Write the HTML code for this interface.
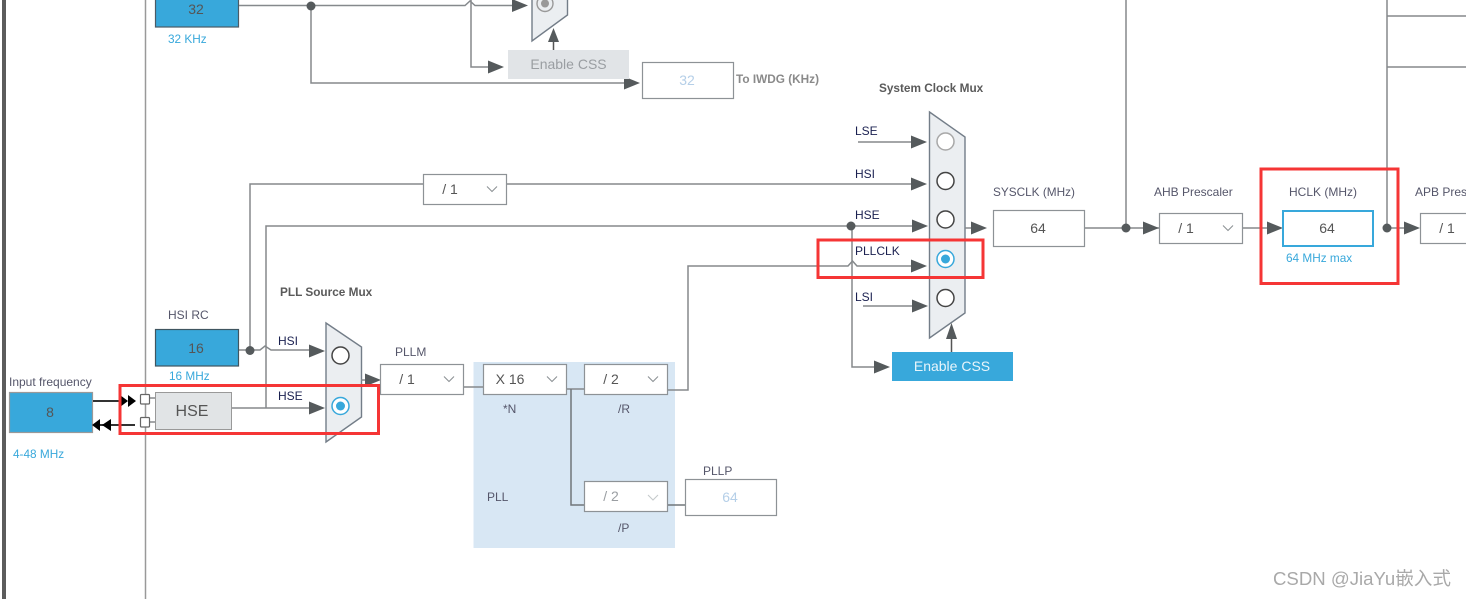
<!DOCTYPE html>
<html><head><meta charset="utf-8"><style>
html,body{margin:0;padding:0;background:#fff;width:1466px;height:599px;overflow:hidden}
svg{display:block}
text{font-family:"Liberation Sans","Noto Sans CJK SC",sans-serif;font-size:12px;fill:#55566a}
.l{fill:none;stroke:#85898c;stroke-width:1.5}
.b{fill:#38a8db}
.box{fill:#fff;stroke:#8d9296;stroke-width:1.2}
.ar{fill:#555a5c}
.v{font-size:14px;fill:#555;text-anchor:middle}
.c{fill:#38a8db;font-size:11.8px}
.n{fill:#1a2050}
.h{font-weight:bold;fill:#5a5a5a;font-size:11.8px}
.chev{fill:none;stroke:#8d9296;stroke-width:1.1}
.mux{fill:#ebeef1;stroke:#737d88;stroke-width:1.4}
.o{fill:#fff;stroke:#444;stroke-width:1.5}
.red{fill:none;stroke:#f53535;stroke-width:3}
</style></head><body>
<svg width="1466" height="599" viewBox="0 0 1466 599" xmlns="http://www.w3.org/2000/svg">
<defs>
<g id="a"><path class="ar" d="M-16,-6.500 L0,0 L-16,6.500 Z"/></g>
<g id="ch"><path class="chev" d="M-5,-2.500 L0,2.500 L5,-2.500"/></g>
</defs>
<rect x="2" y="0" width="4" height="599" fill="#5c5c5c"/>
<path d="M145.500,0V599" class="l" style="stroke:#999"/>
<rect x="473.500" y="362" width="201.500" height="186" fill="#d8e7f4"/>

<!-- top section -->
<rect class="b" x="155.500" y="-10" width="83" height="37" stroke="#4b5b66" stroke-width="1.200"/>
<text class="v" x="196" y="14">32</text>
<text class="c" x="168" y="43">32 KHz</text>
<path class="l" d="M239,5.500H465L470,1L475,5.500H515"/>
<path class="l" d="M471,0V67H490"/>
<path class="l" d="M311,6V83H625"/>
<circle cx="311" cy="6" r="4.500" fill="#555a5c"/>
<use href="#a" x="528" y="5.500"/>
<use href="#a" x="504" y="67"/>
<use href="#a" x="640" y="83"/>
<path class="mux" d="M532,-10V41L567.500,15V-10Z"/>
<circle cx="545" cy="3.500" r="8" fill="none" stroke="#999" stroke-width="1.400"/>
<circle cx="545" cy="3.500" r="4" fill="#999"/>
<path class="l" d="M553.500,50V36" style="stroke:#555"/>
<path class="ar" d="M553.500,28L559,42H548Z"/>
<rect x="508" y="50" width="121" height="29" fill="#e1e4e7"/>
<text x="568.500" y="69" style="font-size:14px;fill:#9a9ea2;text-anchor:middle">Enable CSS</text>
<rect class="box" x="642.500" y="62.500" width="91" height="36"/>
<text class="v" x="687" y="85" style="fill:#b5cfe8">32</text>
<text x="736" y="83" class="h" style="fill:#8a8a8a">To IWDG (KHz)</text>

<!-- HSI / HSE lines -->
<path class="l" d="M250,350V184H423M507,184H912"/>
<rect class="box" x="423.500" y="174.500" width="83" height="30"/>
<text class="v" x="450" y="194">/ 1</text><use href="#ch" x="492" y="189"/>
<path class="l" d="M266,408V226H912"/>
<path class="l" d="M239,350H260L265,346L271,350H311"/>
<path class="l" d="M232,408H311"/>
<circle cx="250" cy="350.500" r="4.500" fill="#555a5c"/>
<use href="#a" x="325" y="351"/>
<use href="#a" x="325" y="408"/>
<text class="n" x="278" y="345">HSI</text>
<text class="n" x="278" y="400">HSE</text>

<!-- Input / HSE block -->
<text x="9" y="386">Input frequency</text>
<rect class="b" x="9.500" y="392.500" width="83" height="40" stroke="#999" stroke-width="1.200"/>
<text class="v" x="50" y="417">8</text>
<text class="c" x="13" y="458">4-48 MHz</text>
<path d="M93,401H122M135,425H100" stroke="#333" stroke-width="2" fill="none"/>
<path d="M120,395L128,401L120,407ZM128,395L136,401L128,407Z" fill="#000"/>
<path d="M100,419L92,425L100,431ZM111,419L102,425L111,431Z" fill="#000"/>
<path class="l" d="M150,398H155M150,422H155" />
<rect x="140.500" y="394.500" width="9" height="9.500" rx="1" fill="#fff" stroke="#666" stroke-width="1.200"/>
<rect x="140.500" y="417.500" width="9" height="9.500" rx="1" fill="#fff" stroke="#666" stroke-width="1.200"/>
<rect x="155.500" y="392.500" width="76" height="37" fill="#e1e4e6" stroke="#999" stroke-width="1"/>
<text x="192" y="416" style="font-size:16px;fill:#555;text-anchor:middle">HSE</text>
<text x="168" y="319">HSI RC</text>
<rect class="b" x="155.500" y="329.500" width="83" height="36.500" stroke="#3f5560" stroke-width="1.200"/>
<text class="v" x="196" y="353">16</text>
<text class="c" x="169" y="380">16 MHz</text>
<text x="280" y="296" class="h">PLL Source Mux</text>
<path class="mux" d="M326,323L361.500,347V417L326,442Z"/>
<circle class="o" cx="340.500" cy="355.500" r="8.500"/>
<circle cx="340.500" cy="406" r="8.500" fill="#fff" stroke="#38a8db" stroke-width="1.500"/>
<circle cx="340.500" cy="406" r="4.500" fill="#38a8db"/>
<path class="l" d="M361,380H370"/>
<use href="#a" x="381" y="380"/>

<!-- PLL -->
<text x="395" y="356">PLLM</text>
<path class="l" d="M464,387H483M567,389H584M668,390H688V266H848L852.500,261L857,266H912"/>
<path class="l" d="M571,389V505H584M668,505H685" style="stroke:#71767a"/>
<rect class="box" x="380.500" y="364.500" width="83" height="30"/>
<text class="v" x="407" y="384">/ 1</text><use href="#ch" x="449" y="379"/>
<rect class="box" x="483.500" y="364.500" width="83" height="30"/>
<text class="v" x="510" y="384">X 16</text><use href="#ch" x="552" y="379"/>
<rect class="box" x="584.500" y="364.500" width="83" height="30"/>
<text class="v" x="611" y="384">/ 2</text><use href="#ch" x="653" y="379"/>
<rect class="box" x="584.500" y="481.500" width="83" height="30"/>
<text class="v" x="611" y="501" style="fill:#9a9ea2">/ 2</text>
<path d="M648,495L653,500L658,495" fill="none" stroke="#c5c9cc" stroke-width="1.100"/>
<rect class="box" x="685.500" y="479.500" width="91" height="36"/>
<text class="v" x="730" y="502" style="fill:#b5cfe8">64</text>
<text x="703" y="475">PLLP</text>
<text x="503" y="413">*N</text>
<text x="618" y="413">/R</text>
<text x="487" y="501">PLL</text>
<text x="618" y="532">/P</text>

<!-- System Clock Mux -->
<text x="879" y="92" class="h">System Clock Mux</text>
<path class="l" d="M858,142H912M863,306H912"/>
<path class="l" d="M852,226V367H875"/>
<circle cx="851" cy="226" r="4.500" fill="#555a5c"/>
<use href="#a" x="927" y="142"/>
<use href="#a" x="927" y="184"/>
<use href="#a" x="928" y="226"/>
<use href="#a" x="927" y="266"/>
<use href="#a" x="928" y="306"/>
<use href="#a" x="890" y="367"/>
<text class="n" x="855" y="135">LSE</text>
<text class="n" x="855" y="178">HSI</text>
<text class="n" x="855" y="219">HSE</text>
<text class="n" x="855" y="255">PLLCLK</text>
<text class="n" x="855" y="301">LSI</text>
<path class="mux" d="M929.500,112L965,137V313L929.500,338Z"/>
<circle cx="945.500" cy="141.500" r="8.500" fill="#fff" stroke="#a8a8a8" stroke-width="1.500"/>
<circle class="o" cx="945.500" cy="181" r="8.500"/>
<circle class="o" cx="945.500" cy="219.500" r="8.500"/>
<circle cx="945.500" cy="259" r="8.500" fill="#fff" stroke="#38a8db" stroke-width="1.500"/>
<circle cx="945.500" cy="259" r="4.500" fill="#38a8db"/>
<circle class="o" cx="945.500" cy="298" r="8.500"/>
<path d="M951.500,352V335" stroke="#555" stroke-width="1.500"/>
<path class="ar" d="M951.500,323L957,339H946Z"/>
<rect x="892" y="352" width="121" height="29" fill="#38a8db"/>
<text x="952" y="371" style="font-size:14px;fill:#e8f5fb;text-anchor:middle">Enable CSS</text>

<!-- right -->
<path class="l" d="M965,228H973"/>
<use href="#a" x="987" y="228"/>
<text x="993" y="196" style="font-size:11.8px">SYSCLK (MHz)</text>
<rect class="box" x="993.500" y="210.500" width="91" height="36"/>
<text class="v" x="1038" y="233">64</text>
<path class="l" d="M1085,228H1159M1243,228H1270"/>
<path class="l" d="M1126,0V228"/>
<circle cx="1126" cy="228" r="4.500" fill="#555a5c"/>
<use href="#a" x="1159" y="228"/>
<text x="1154" y="196">AHB Prescaler</text>
<rect class="box" x="1159.500" y="213.500" width="83" height="30"/>
<text class="v" x="1186" y="233">/ 1</text><use href="#ch" x="1228" y="228"/>
<use href="#a" x="1283" y="228"/>
<text x="1289" y="196">HCLK (MHz)</text>
<rect x="1283" y="211" width="90" height="35" fill="#fff" stroke="#38a8db" stroke-width="2"/>
<text class="v" x="1327" y="233">64</text>
<text class="c" x="1286" y="262">64 MHz max</text>
<path class="l" d="M1387,0V228M1387,16H1466M1387,67H1466M1387,228H1405"/>
<circle cx="1387" cy="228" r="4.500" fill="#555a5c"/>
<use href="#a" x="1420" y="228"/>
<text x="1415" y="196">APB Prescaler</text>
<rect class="box" x="1420.500" y="213.500" width="60" height="30"/>
<text class="v" x="1447" y="233">/ 1</text>

<!-- red highlights -->
<rect class="red" x="120" y="385.500" width="258.500" height="48"/>
<rect class="red" x="818" y="240" width="165" height="37.500"/>
<rect class="red" x="1261" y="169" width="137" height="114.500"/>

<text x="1273" y="585" style="font-size:18.600px;fill:#a9a9a9">CSDN @JiaYu嵌入式</text>
</svg>
</body></html>
